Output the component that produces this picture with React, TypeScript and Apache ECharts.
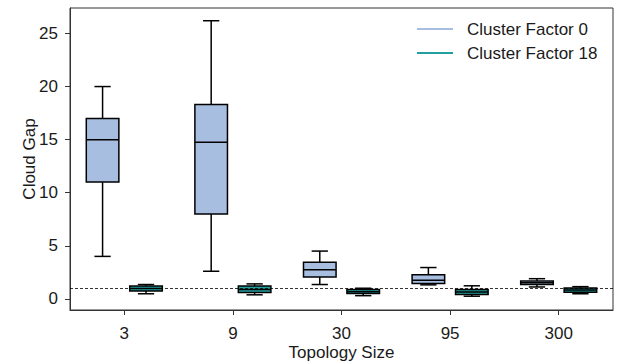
import React, { useEffect, useRef } from "react";
import * as echarts from "echarts";

const categories = ["3", "9", "30", "95", "300"];
// [min, q1, median, q3, max]
const clusterFactor0 = [
  [4.0, 11.0, 15.0, 17.0, 20.0],
  [2.6, 8.0, 14.75, 18.3, 26.2],
  [1.35, 2.05, 2.75, 3.45, 4.5],
  [1.32, 1.45, 1.75, 2.26, 2.95],
  [1.12, 1.35, 1.52, 1.68, 1.9],
];
const clusterFactor18 = [
  [0.48, 0.75, 0.97, 1.22, 1.35],
  [0.38, 0.6, 0.87, 1.2, 1.41],
  [0.3, 0.5, 0.68, 0.88, 1.0],
  [0.25, 0.41, 0.64, 0.88, 1.23],
  [0.48, 0.62, 0.84, 1.03, 1.15],
];
const yTicks = [0, 5, 10, 15, 20, 25];
const referenceLine = 1;

const FONT = "'Liberation Sans', Arial, Helvetica, sans-serif";
const FS = 17;
const C0 = "#a7bee0";
const C18 = "#22a0a0";

function makeRender(offset: number, fill: string) {
  return (params: any, api: any) => {
    const idx = api.value(0);
    const band = api.size([1, 0])[0];
    const cx = api.coord([idx, 0])[0] + offset * band;
    const hw = band * 0.15;
    const cw = band * 0.075;
    const y = (v: number) => api.coord([idx, v])[1];
    const mn = y(api.value(1));
    const q1 = y(api.value(2));
    const md = y(api.value(3));
    const q3 = y(api.value(4));
    const mx = y(api.value(5));
    const st = { stroke: "#000", lineWidth: 1.5 };
    return {
      type: "group",
      children: [
        { type: "line", shape: { x1: cx, y1: mx, x2: cx, y2: q3 }, style: st },
        { type: "line", shape: { x1: cx, y1: q1, x2: cx, y2: mn }, style: st },
        { type: "line", shape: { x1: cx - cw, y1: mx, x2: cx + cw, y2: mx }, style: st },
        { type: "line", shape: { x1: cx - cw, y1: mn, x2: cx + cw, y2: mn }, style: st },
        {
          type: "rect",
          shape: { x: cx - hw, y: q3, width: 2 * hw, height: q1 - q3 },
          style: { fill, stroke: "#000", lineWidth: 1.5 },
        },
        { type: "line", shape: { x1: cx - hw, y1: md, x2: cx + hw, y2: md }, style: st },
      ],
    };
  };
}

export default function App() {
  const ref = useRef<HTMLDivElement>(null);
  useEffect(() => {
    if (!ref.current) return;
    const chart = echarts.init(ref.current, undefined, { renderer: "svg" });
    const toData = (arr: number[][]) => arr.map((s, i) => [i, ...s]);
    chart.setOption({
      animation: false,
      textStyle: { fontFamily: FONT },
      grid: {
        left: 70,
        right: 9,
        top: 8,
        bottom: 53,
        outerBoundsMode: "none",
        containLabel: false,
        show: true,
        borderColor: "#333",
        borderWidth: 1,
        backgroundColor: "transparent",
      },
      legend: {
        orient: "vertical",
        left: 412,
        top: 14,
        data: ["Cluster Factor 0", "Cluster Factor 18"],
        icon: "rect",
        itemWidth: 36,
        itemHeight: 2,
        itemGap: 4,
        textStyle: {
          fontFamily: FONT,
          fontSize: FS,
          color: "#1a1a1a",
          lineHeight: 20,
          padding: [0, 0, 0, 9],
        },
      },
      xAxis: {
        type: "category",
        data: categories,
        boundaryGap: true,
        name: "Topology Size",
        nameLocation: "middle",
        nameGap: 34,
        nameMoveOverlap: false,
        nameTextStyle: { fontFamily: FONT, fontSize: FS, color: "#1a1a1a" },
        axisLine: { show: true, onZero: false, lineStyle: { color: "#333", width: 1 } },
        axisTick: { show: true, alignWithLabel: true, length: 5, lineStyle: { color: "#333" } },
        axisLabel: { fontFamily: FONT, fontSize: FS, color: "#1a1a1a", margin: 15 },
        splitLine: { show: false },
      },
      yAxis: {
        type: "value",
        min: -1.05,
        max: 27.4,
        name: "Cloud Gap",
        nameLocation: "middle",
        nameGap: 32,
        nameMoveOverlap: false,
        nameTextStyle: { fontFamily: FONT, fontSize: FS, color: "#1a1a1a" },
        axisLine: { show: true, lineStyle: { color: "#333", width: 1 } },
        axisTick: { show: true, length: 5, customValues: yTicks, lineStyle: { color: "#333" } },
        axisLabel: {
          fontFamily: FONT,
          fontSize: FS,
          color: "#1a1a1a",
          margin: 12,
          customValues: yTicks,
        },
        splitLine: { show: false },
      },
      series: [
        {
          name: "ref",
          type: "line",
          data: [],
          z: 1,
          markLine: {
            silent: true,
            symbol: "none",
            label: { show: false },
            lineStyle: { type: [3, 2], color: "#000", width: 0.8 },
            data: [{ yAxis: referenceLine }],
          },
        },
        {
          name: "Cluster Factor 0",
          type: "custom",
          z: 3,
          itemStyle: { color: C0 },
          renderItem: makeRender(-0.2, C0),
          encode: { x: 0, y: [1, 2, 3, 4, 5] },
          data: toData(clusterFactor0),
        },
        {
          name: "Cluster Factor 18",
          type: "custom",
          z: 3,
          itemStyle: { color: C18 },
          renderItem: makeRender(0.2, C18),
          encode: { x: 0, y: [1, 2, 3, 4, 5] },
          data: toData(clusterFactor18),
        },
      ],
    });
    return () => chart.dispose();
  }, []);
  return <div ref={ref} style={{ width: 622, height: 363, position: "absolute", left: 0, top: 0 }} />;
}
